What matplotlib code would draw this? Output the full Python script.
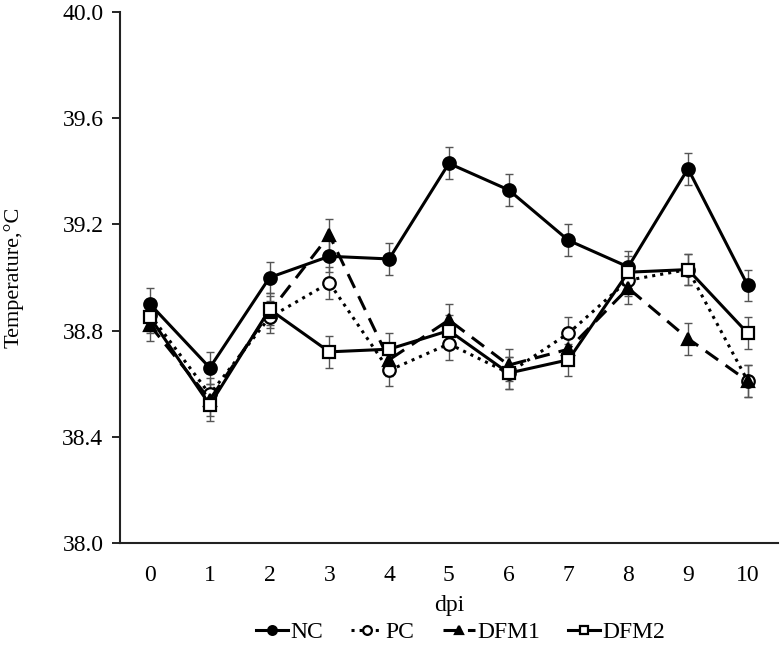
import matplotlib
matplotlib.use('Agg')
import matplotlib.pyplot as plt
import numpy as np

plt.rcParams['font.family'] = 'serif'
plt.rcParams['font.serif'] = ['Liberation Serif', 'DejaVu Serif']

dpi_days = np.arange(0, 11)
nc = [38.90, 38.66, 39.00, 39.08, 39.07, 39.43, 39.33, 39.14, 39.04, 39.41, 38.97]
pc = [38.86, 38.56, 38.85, 38.98, 38.65, 38.75, 38.64, 38.79, 38.99, 39.03, 38.61]
dfm1 = [38.82, 38.54, 38.87, 39.16, 38.69, 38.84, 38.67, 38.73, 38.96, 38.77, 38.61]
dfm2 = [38.85, 38.52, 38.88, 38.72, 38.73, 38.80, 38.64, 38.69, 39.02, 39.03, 38.79]
sem = 0.06

fig = plt.figure(figsize=(7.8, 6.53), dpi=100)
ax = fig.add_axes([0.154, 0.1685, 0.843, 0.813])

series = [
    ('NC', nc, '-', 'o', 'black'),
    ('PC', pc, ':', 'o', 'white'),
    ('DFM1', dfm1, (0, (5, 3)), '^', 'black'),
    ('DFM2', dfm2, '-', 's', 'white'),
]
for name, vals, ls, mk, fc in series:
    ax.errorbar(dpi_days, vals, yerr=sem, fmt='none', ecolor='#555555',
                elinewidth=1, capsize=3, capthick=1, zorder=1)
    ax.plot(dpi_days, vals, linestyle=ls, color='black', lw=2.2,
            marker=mk, markersize=9 if mk != 's' else 8,
            markerfacecolor=fc, markeredgecolor='black', markeredgewidth=1.6,
            label=name, zorder=2)

ax.set_xlim(-0.5, 10.5)
ax.set_ylim(38.0, 40.0)
ax.set_yticks([38.0, 38.4, 38.8, 39.2, 39.6, 40.0])
ax.set_yticklabels(['38.0', '38.4', '38.8', '39.2', '39.6', '40.0'])
ax.set_xticks(dpi_days)
ax.tick_params(axis='x', length=0, labelsize=17, pad=16)
ax.tick_params(axis='y', length=6, width=1.2, labelsize=17, pad=6)
for s in ['top', 'right']:
    ax.spines[s].set_visible(False)
for s in ['left', 'bottom']:
    ax.spines[s].set_linewidth(1.5)
    ax.spines[s].set_color('#222222')

ax.set_xlabel('dpi', fontsize=17, labelpad=6)
ax.set_ylabel('Temperature,\u00b0C', fontsize=16, labelpad=28)

ax.legend(loc='center', bbox_to_anchor=(0.518, -0.168), ncol=4, frameon=False,
          fontsize=17, handlelength=1.35, handletextpad=0.1, columnspacing=1.2,
          markerscale=0.7)

fig.savefig('out.png', dpi=100)
